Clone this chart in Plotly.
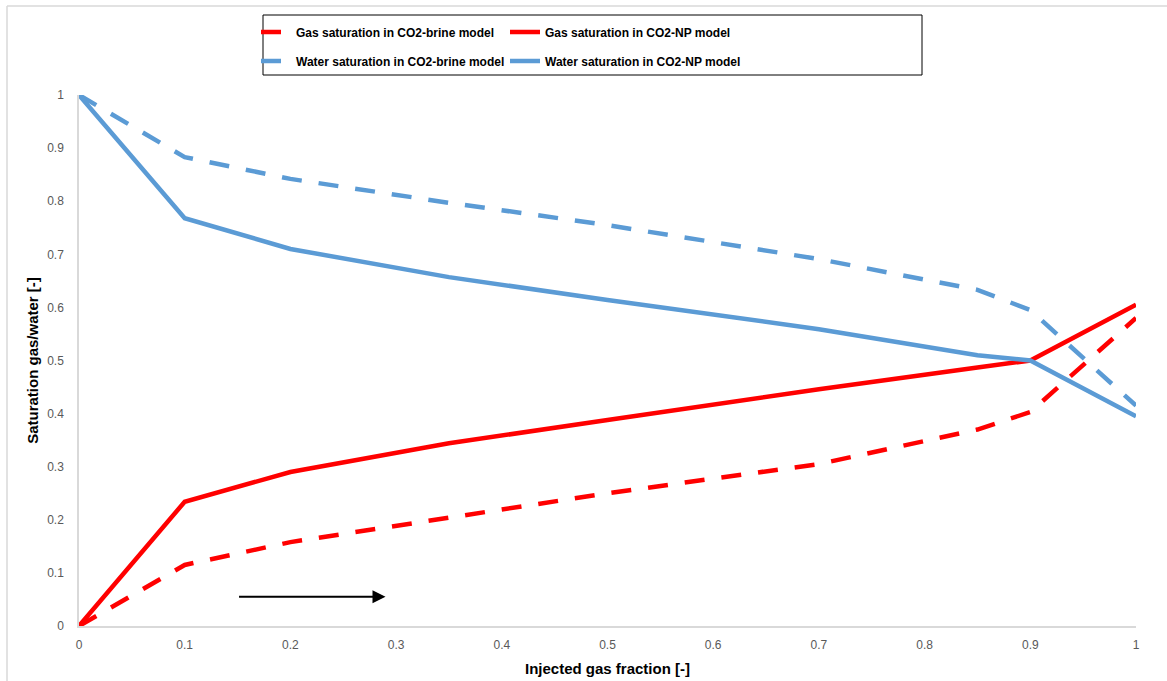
import plotly.graph_objects as go

x_frac = [0, 0.1, 0.2, 0.35, 0.5, 0.7, 0.85, 0.9, 1.0]
gas_brine = [0, 0.115, 0.158, 0.203, 0.25, 0.305, 0.37, 0.403, 0.58]
gas_np = [0, 0.234, 0.29, 0.344, 0.388, 0.446, 0.487, 0.5, 0.605]
water_brine = [1.0, 0.883, 0.842, 0.797, 0.755, 0.691, 0.633, 0.595, 0.415]
water_np = [1.0, 0.768, 0.71, 0.657, 0.614, 0.559, 0.51, 0.5, 0.395]

x_ticks = [0, 0.1, 0.2, 0.3, 0.4, 0.5, 0.6, 0.7, 0.8, 0.9, 1]
x_ticktext = ["0", "0.1", "0.2", "0.3", "0.4", "0.5", "0.6", "0.7", "0.8", "0.9", "1"]
y_ticks = x_ticks
y_ticktext = x_ticktext

RED = "#FF0000"
BLUE = "#5B9BD5"
DASH = "20px,17px"

fig = go.Figure()
fig.add_trace(go.Scatter(x=x_frac, y=gas_brine, mode="lines", name="<b>Gas saturation in CO2-brine model</b>",
                         line=dict(color=RED, width=4.5, dash=DASH), legend="legend"))
fig.add_trace(go.Scatter(x=x_frac, y=gas_np, mode="lines", name="<b>Gas saturation in CO2-NP model</b>",
                         line=dict(color=RED, width=4.5), legend="legend"))
fig.add_trace(go.Scatter(x=x_frac, y=water_brine, mode="lines", name="<b>Water saturation in CO2-brine model</b>",
                         line=dict(color=BLUE, width=4.5, dash=DASH), legend="legend2"))
fig.add_trace(go.Scatter(x=x_frac, y=water_np, mode="lines", name="<b>Water saturation in CO2-NP model</b>",
                         line=dict(color=BLUE, width=4.5), legend="legend2"))

legend_common = dict(orientation="h", xanchor="left", yanchor="middle", xref="paper", yref="paper",
                     bgcolor="rgba(0,0,0,0)", borderwidth=0, entrywidth=204, entrywidthmode="pixels",
                     font=dict(family="Liberation Sans", size=12, color="#000000"),
                     itemwidth=30, tracegroupgap=0)

fig.update_layout(
    width=1167, height=681,
    margin=dict(l=79, r=31, t=95, b=55),
    paper_bgcolor="white", plot_bgcolor="white",
    font=dict(family="Liberation Sans"),
    legend=dict(x=(256 - 79) / 1057, y=(626 - 32) / 531, **legend_common),
    legend2=dict(x=(256 - 79) / 1057, y=(626 - 61) / 531, **legend_common),
    xaxis=dict(range=[0, 1], tickmode="array", tickvals=x_ticks, ticktext=x_ticktext,
               showgrid=False, zeroline=False, showline=True, linecolor="#D9D9D9", linewidth=1.5,
               ticks="outside", ticklen=7, tickcolor="rgba(0,0,0,0)", automargin=False,
               tickfont=dict(family="Liberation Sans", size=12, color="#595959"),
               title=dict(text="<b>Injected gas fraction [-]</b>", standoff=12,
                          font=dict(family="Liberation Sans", size=15, color="#000000"))),
    yaxis=dict(range=[0, 1], tickmode="array", tickvals=y_ticks, ticktext=y_ticktext,
               showgrid=False, zeroline=False, showline=True, linecolor="#D9D9D9", linewidth=1.5,
               ticks="outside", ticklen=11, tickcolor="rgba(0,0,0,0)", automargin=False,
               tickfont=dict(family="Liberation Sans", size=12, color="#595959"),
               title=dict(text="<b>Saturation gas/water [-]</b>", standoff=5,
                          font=dict(family="Liberation Sans", size=15, color="#000000"))),
    showlegend=True,
)

# legend border box
fig.add_shape(type="rect", xref="paper", yref="paper",
              x0=(263 - 79) / 1057, x1=(922 - 79) / 1057,
              y0=(626 - 75) / 531, y1=(626 - 15) / 531,
              line=dict(color="#000000", width=1), fillcolor="rgba(0,0,0,0)")
# outer chart border (top and left)
fig.add_shape(type="line", xref="paper", yref="paper",
              x0=(7 - 79) / 1057, x1=(1167 - 79) / 1057, y0=(626 - 6) / 531, y1=(626 - 6) / 531,
              line=dict(color="#D9D9D9", width=1.5))
fig.add_shape(type="line", xref="paper", yref="paper",
              x0=(7 - 79) / 1057, x1=(7 - 79) / 1057, y0=(626 - 6) / 531, y1=(626 - 690) / 531,
              line=dict(color="#D9D9D9", width=1.5))

# arrow
fig.add_annotation(x=0.29, y=0.055, ax=0.15, ay=0.055, xref="x", yref="y", axref="x", ayref="y",
                   showarrow=True, arrowhead=2, arrowsize=1.3, arrowwidth=2, arrowcolor="#000000", text="")

fig.write_html("out.html")
